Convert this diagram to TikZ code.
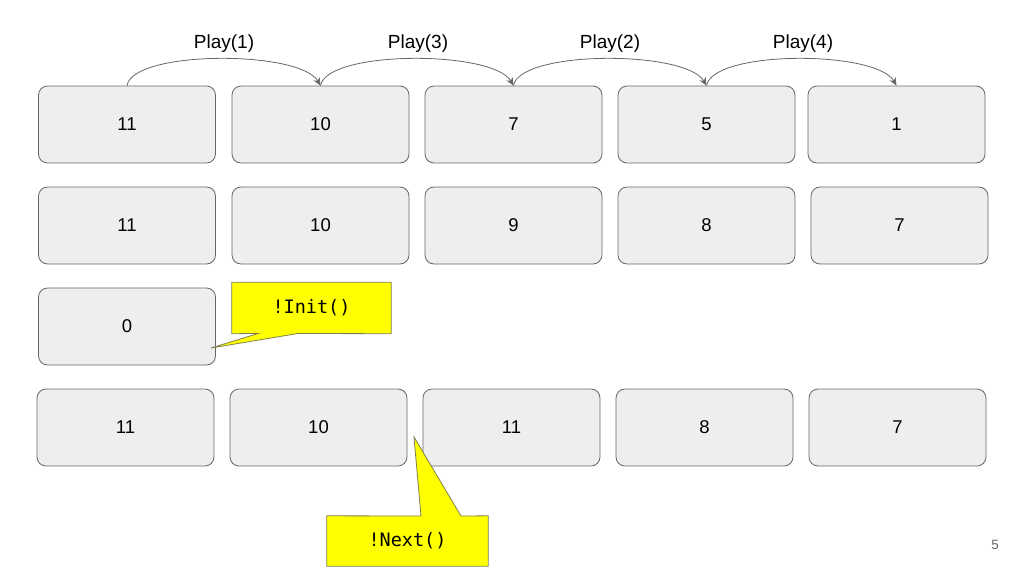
\documentclass[tikz,border=0pt]{standalone}
\usepackage{fontspec}
\setmainfont{Liberation Sans}
\newfontfamily\monof{DejaVu Sans Mono}
\usetikzlibrary{arrows.meta}
\definecolor{boxfill}{HTML}{EEEEEE}
\definecolor{boxline}{HTML}{666666}
\definecolor{callline}{HTML}{7F7F50}
\definecolor{callfill}{HTML}{FFFF00}
\tikzset{
  cell/.style={draw=boxline, fill=boxfill, rounded corners=9pt, minimum width=177pt, minimum height=77pt, inner sep=0pt, line width=0.8pt, font=\fontsize{18.5}{22}\selectfont},
  lbl/.style={font=\fontsize{19}{22}\selectfont, inner sep=0pt},
  arc/.style={draw=boxline, line width=0.8pt, -{Stealth[length=8pt,width=7pt]}},
  callout/.style={draw=callline, fill=callfill, line width=0.8pt},
  calltext/.style={font=\monof\fontsize{18.5}{22}\selectfont, inner sep=0pt}
}
\begin{document}
\begin{tikzpicture}[x=1pt,y=-1pt]
\useasboundingbox (0,0) rectangle (1024,576);
% row 1
\node[cell] (a1) at (127,124.5) {11};
\node[cell] (a2) at (320.5,124.5) {10};
\node[cell] (a3) at (513.5,124.5) {7};
\node[cell] (a4) at (706.5,124.5) {5};
\node[cell] (a5) at (896.5,124.5) {1};
% row 2
\node[cell] (b1) at (127,225.5) {11};
\node[cell] (b2) at (320.5,225.5) {10};
\node[cell] (b3) at (513.5,225.5) {9};
\node[cell] (b4) at (706.5,225.5) {8};
\node[cell] (b5) at (899.5,225.5) {7};
% row 3
\node[cell] (c1) at (127,326.5) {0};
% row 4
\node[cell] (d1) at (125.5,427.5) {11};
\node[cell] (d2) at (318.5,427.5) {10};
\node[cell] (d3) at (511.5,427.5) {11};
\node[cell] (d4) at (704.5,427.5) {8};
\node[cell] (d5) at (897.5,427.5) {7};
% arcs
\draw[arc] (a1.north) .. controls (133,50) and (300,50) .. (a2.north);
\draw[arc] (a2.north) .. controls (327,50) and (493,50) .. (a3.north);
\draw[arc] (a3.north) .. controls (520,50) and (686,50) .. (a4.north);
\draw[arc] (a4.north) .. controls (713,50) and (876,50) .. (a5.north);
\node[lbl] (p1) at (224,44) {Play(1)};
\node[lbl] (p3) at (418,44) {Play(3)};
\node[lbl] (p2) at (610,44) {Play(2)};
\node[lbl] (p4) at (803,44) {Play(4)};
% Init callout
\node[minimum width=159pt, minimum height=51pt, inner sep=0pt] (init) at (311.5,308) {};
\coordinate (itip) at (211,348);
\path[callout] (init.north west) -- (init.north east) -- (init.south east) -- (298,333.5) -- (itip) -- (258,333.5) -- (init.south west) -- cycle;
\node[calltext] at (init) {!Init()};
% Next callout
\node[minimum width=161pt, minimum height=50pt, inner sep=0pt] (next) at (407.5,541) {};
\coordinate (ntip) at (414,437);
\path[callout] (next.north west) -- (421,516) -- (ntip) -- (461,516) -- (next.north east) -- (next.south east) -- (next.south west) -- cycle;
\node[calltext] at (next) {!Next()};
% page number
\node[font=\fontsize{13.5}{16}\selectfont, text=boxline, inner sep=0pt] (pg) at (995,545) {5};
\end{tikzpicture}
\end{document}
